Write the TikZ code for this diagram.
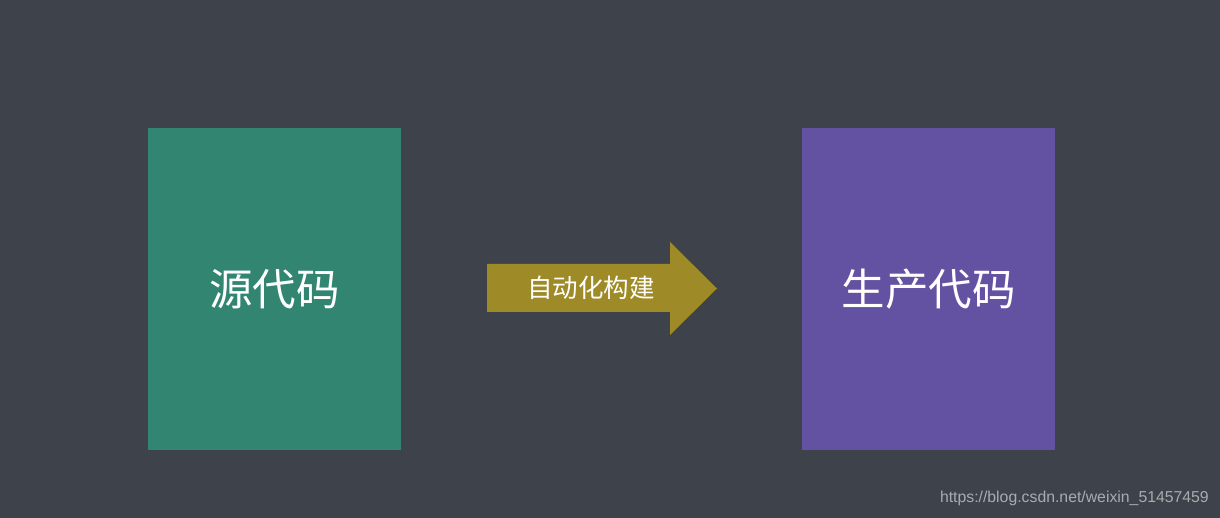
\documentclass[tikz,border=0pt]{standalone}
\usepackage{fontspec}
\newfontfamily\cjk{Noto Sans CJK SC}
\setmainfont{Liberation Sans}
\definecolor{bg}{HTML}{3E424B}
\definecolor{srcgreen}{HTML}{318571}
\definecolor{prodpurple}{HTML}{6351A1}
\definecolor{arrowolive}{HTML}{9E8A26}
\definecolor{wm}{HTML}{A9ABAF}
\begin{document}
\begin{tikzpicture}[x=1pt,y=-1pt,
  box/.style={inner sep=0pt, minimum width=253pt, minimum height=322pt, text=white, font=\cjk\fontsize{43.5}{48}\selectfont},
  lbl/.style={text=white, font=\cjk\fontsize{25.5}{30}\selectfont, inner sep=0pt}]
\fill[bg] (0,0) rectangle (1220,518);
\useasboundingbox (0,0) rectangle (1220,518);
\node[box, fill=srcgreen] (src) at (274.5,289) {源代码};
\node[box, fill=prodpurple] (prod) at (928.5,289) {生产代码};
\fill[arrowolive] (487,264) -- (670,264) -- (670,242) -- (717,288.5) -- (670,335) -- (670,312) -- (487,312) -- cycle;
\node[lbl] (build) at (591,288) {自动化构建};
\node[text=wm, font=\fontsize{15.8}{18}\selectfont, anchor=east, inner sep=0pt] (mark) at (1209,498) {https://blog.csdn.net/weixin\_51457459};
\end{tikzpicture}
\end{document}
